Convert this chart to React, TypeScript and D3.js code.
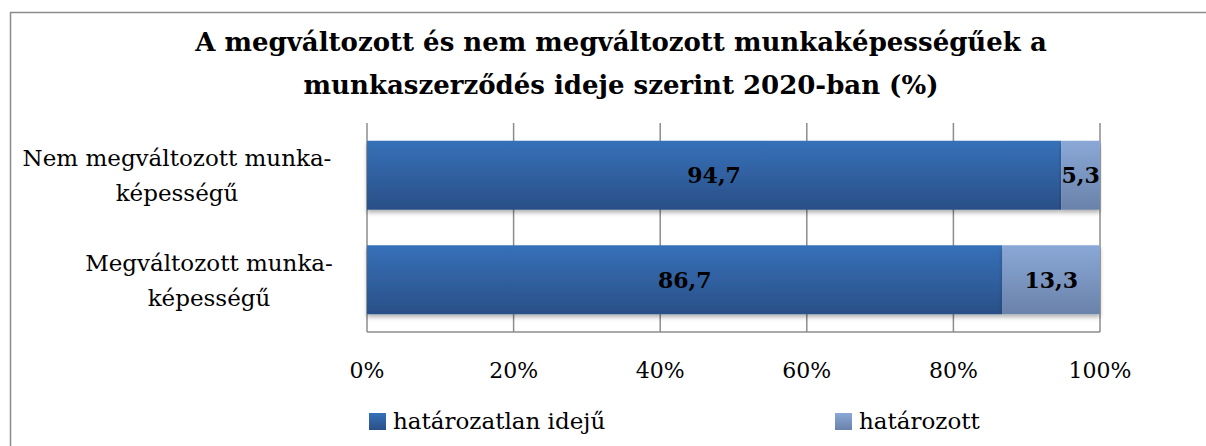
import React, { useRef, useEffect } from "react";
import * as d3 from "d3";

// categories, top to bottom
const categories: string[][] = [
  ["Nem megváltozott munka-", "képességű"],
  ["Megváltozott munka-", "képességű"],
];
const seriesNames = ["határozatlan idejű", "határozott"];
const indefinite = [94.7, 86.7];
const fixed = [5.3, 13.3];
const xTicks = [0, 20, 40, 60, 80, 100];
const titleLines = [
  "A megváltozott és nem megváltozott munkaképességűek a",
  "munkaszerződés ideje szerint 2020-ban (%)",
];

const FONT = "'DejaVu Serif', serif";

const App = () => {
  const svgRef = useRef<SVGSVGElement>(null);

  useEffect(() => {
    const width = 1206;
    const height = 446;
    const plot = { left: 367, right: 1100, top: 123, bottom: 332 };

    const svg = d3.select(svgRef.current);
    svg.selectAll("*").remove();

    const defs = svg.append("defs");
    const grad = (id: string, top: string, bottom: string) => {
      const g = defs
        .append("linearGradient")
        .attr("id", id)
        .attr("x1", 0)
        .attr("y1", 0)
        .attr("x2", 0)
        .attr("y2", 1);
      g.append("stop").attr("offset", "0%").attr("stop-color", top);
      g.append("stop").attr("offset", "100%").attr("stop-color", bottom);
    };
    grad("gDark", "#3671b9", "#2a4f87");
    grad("gLight", "#8aa8d7", "#6a82aa");
    const colors = ["url(#gDark)", "url(#gLight)"];

    const shadow = defs
      .append("filter")
      .attr("id", "shadow")
      .attr("x", "-5%")
      .attr("y", "-20%")
      .attr("width", "110%")
      .attr("height", "150%");
    shadow
      .append("feDropShadow")
      .attr("dx", 0)
      .attr("dy", 3)
      .attr("stdDeviation", 2)
      .attr("flood-color", "#000")
      .attr("flood-opacity", 0.3);

    // outer frame
    svg
      .append("rect")
      .attr("x", 10.5)
      .attr("y", 12.5)
      .attr("width", width + 20)
      .attr("height", height + 20)
      .attr("fill", "white")
      .attr("stroke", "#8c8c8c")
      .attr("stroke-width", 1.5);

    // title
    svg
      .append("g")
      .selectAll("text")
      .data(titleLines)
      .enter()
      .append("text")
      .attr("x", 621)
      .attr("y", (d, i) => 51 + i * 43)
      .attr("text-anchor", "middle")
      .attr("font-family", FONT)
      .attr("font-weight", "bold")
      .attr("font-size", 26)
      .attr("fill", "#000")
      .text((d) => d);

    const x = d3.scaleLinear().domain([0, 100]).range([plot.left, plot.right]);
    const y = d3
      .scaleBand()
      .domain(categories.map((d, i) => String(i)))
      .range([plot.top, plot.bottom])
      .paddingInner(0.34)
      .paddingOuter(0.17);

    // gridlines
    svg
      .append("g")
      .selectAll("line")
      .data(xTicks)
      .enter()
      .append("line")
      .attr("x1", (d) => x(d))
      .attr("x2", (d) => x(d))
      .attr("y1", plot.top)
      .attr("y2", plot.bottom)
      .attr("stroke", "#8c8c8c")
      .attr("stroke-width", 1.5);

    svg
      .append("line")
      .attr("x1", plot.left)
      .attr("x2", plot.right)
      .attr("y1", plot.bottom)
      .attr("y2", plot.bottom)
      .attr("stroke", "#8c8c8c")
      .attr("stroke-width", 1.5);

    // x tick labels
    svg
      .append("g")
      .selectAll("text")
      .data(xTicks)
      .enter()
      .append("text")
      .attr("x", (d) => x(d))
      .attr("y", 378)
      .attr("text-anchor", "middle")
      .attr("font-family", FONT)
      .attr("font-size", 22)
      .text((d) => d + "%");

    // stacked bars
    const stackData = categories.map((c, i) => ({
      key: String(i),
      a: indefinite[i],
      b: fixed[i],
    }));
    const stacked = d3.stack<any>().keys(["a", "b"])(stackData);

    const fmt = (v: number) => v.toFixed(1).replace(".", ",");

    stacked.forEach((layer, li) => {
      const g = svg.append("g");
      g.selectAll("rect")
        .data(layer)
        .enter()
        .append("rect")
        .attr("x", (d) => x(d[0]))
        .attr("y", (d) => y(d.data.key)!)
        .attr("width", (d) => x(d[1]) - x(d[0]))
        .attr("height", y.bandwidth())
        .attr("fill", colors[li])
        .attr("filter", "url(#shadow)");
      g.selectAll("text")
        .data(layer)
        .enter()
        .append("text")
        .attr("x", (d) => (x(d[0]) + x(d[1])) / 2)
        .attr("y", (d) => y(d.data.key)! + y.bandwidth() / 2 + 8)
        .attr("text-anchor", "middle")
        .attr("font-family", FONT)
        .attr("font-weight", "bold")
        .attr("font-size", 22)
        .attr("fill", "#000")
        .text((d) => fmt(d[1] - d[0]));
    });

    // category labels
    categories.forEach((lines, i) => {
      const cy = y(String(i))! + y.bandwidth() / 2;
      svg
        .append("g")
        .selectAll("text")
        .data(lines)
        .enter()
        .append("text")
        .attr("x", 177 + i * 32)
        .attr("y", (d, j) => cy - 9 + j * 35)
        .attr("text-anchor", "middle")
        .attr("font-family", FONT)
        .attr("font-size", 23)
        .text((d) => d);
    });

    // legend
    const legendX = [369, 835];
    const legend = svg
      .append("g")
      .selectAll("g")
      .data(seriesNames)
      .enter()
      .append("g")
      .attr("transform", (d, i) => `translate(${legendX[i]}, 413)`);
    legend
      .append("rect")
      .attr("width", 17)
      .attr("height", 17)
      .attr("fill", (d, i) => colors[i]);
    legend
      .append("text")
      .attr("x", 24)
      .attr("y", 16)
      .attr("font-family", FONT)
      .attr("font-size", 23)
      .text((d) => d);
  }, []);

  return (
    <svg
      ref={svgRef}
      width={1206}
      height={446}
      style={{ position: "absolute", left: 0, top: 0, background: "white" }}
    ></svg>
  );
};

export default App;
